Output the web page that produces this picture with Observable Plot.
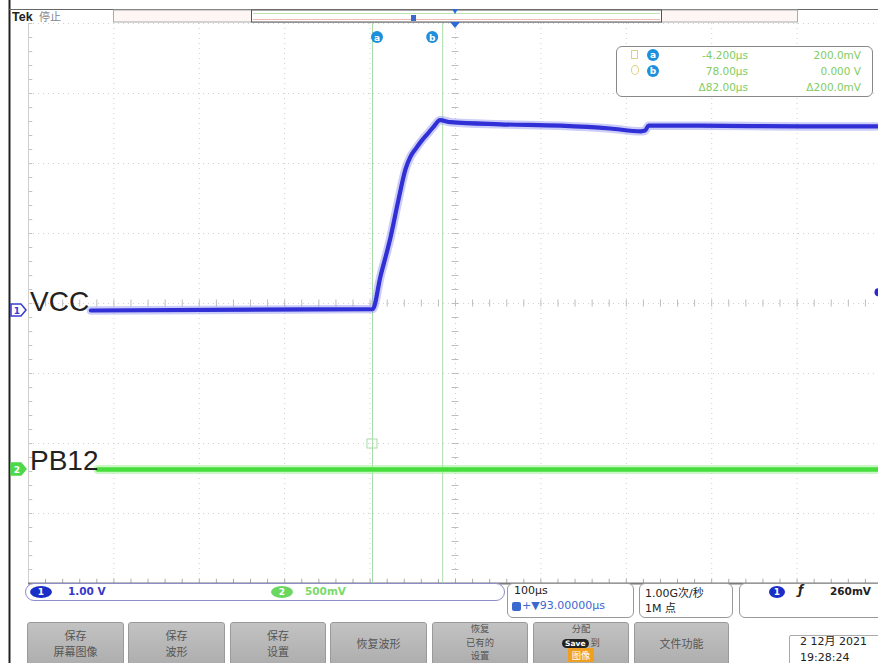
<!DOCTYPE html>
<html><head><meta charset="utf-8">
<script src="https://cdn.jsdelivr.net/npm/d3@7"></script>
<script src="https://cdn.jsdelivr.net/npm/@observablehq/plot@0.6"></script>
<style>
body{margin:0;background:#fff;font-family:"Liberation Sans",Arial,sans-serif;}
#wrap{position:relative;width:878px;height:663px;overflow:hidden;background:#fff;}
.abs{position:absolute;box-sizing:border-box;}
.btn{position:absolute;box-sizing:border-box;top:622px;height:46px;background:linear-gradient(#c2c2c2,#acacac);border:1px solid #9a9a9a;border-radius:3px;color:#555;font-family:"Noto Sans CJK SC",sans-serif;font-size:11px;line-height:14px;text-align:center;}
.btn div{position:absolute;left:0;right:0;}
.ro{position:absolute;font-family:"DejaVu Sans",sans-serif;font-size:10.5px;color:#82cc62;text-align:right;}
.sb{position:absolute;font-family:"DejaVu Sans",sans-serif;font-weight:bold;font-size:10.5px;}
.box{position:absolute;box-sizing:border-box;border:1px solid #999;border-radius:6px;background:#fff;}
</style></head><body><div id="wrap"></div>
<script>
// ---- data ----
const timePerDiv = 100;          // µs/div
const horizDelay = 93;           // µs at screen centre
const ch1Scale = 1.0, ch1Offset = -0.1;   // V/div, div
const ch2Scale = 0.5, ch2Offset = -2.37;  // V/div, div
const triggerLevel = 0.26;       // V
const cursorNames = ["a", "b"];
const cursorTimes = [-4.2, 78.0];
const vccTime = [-334, -4, 5, 17, 26, 34.5, 40, 47, 53, 60, 67, 75, 87, 146, 216, 274, 310, 315, 319, 380, 497, 590];
const vccVolts = [0, 0.02, 0.48, 1.05, 1.57, 2.02, 2.19, 2.32, 2.42, 2.52, 2.62, 2.72, 2.69, 2.66, 2.64, 2.60, 2.56, 2.57, 2.64, 2.64, 2.63, 2.63];
const pb12Time = [-326, 590];
const pb12Volts = [0, 0];
const gridDivX = d3.range(-5, 6);
const gridDivY = d3.range(-4, 5);

const vcc = vccTime.map((t, i) => ({t, v: vccVolts[i]}));
const pb12 = pb12Time.map((t, i) => ({t, v: pb12Volts[i]}));
const gridT = gridDivX.map(k => horizDelay + k * timePerDiv);
const minorT = d3.range(-50, 51).map(k => horizDelay + k * timePerDiv / 5);
const minorY = d3.range(-20, 21).map(k => k / 5);
const tLeft = horizDelay - 5 * timePerDiv;
const y1 = d => d.v / ch1Scale + ch1Offset;
const y2 = d => d.v / ch2Scale + ch2Offset;

const W = 878, H = 663;
const wrap = document.getElementById("wrap");

const plot = Plot.plot({
  width: W, height: H,
  marginTop: 23, marginBottom: 80, marginLeft: 28, marginRight: 0,
  x: {domain: [tLeft, horizDelay + 5 * timePerDiv], range: [28, 28 + 10 * 85.4], axis: null},
  y: {domain: [-4, 4], axis: null},
  style: {background: "transparent", overflow: "hidden"},
  marks: [
    Plot.ruleX(gridT, {stroke: "#d0d0d0", strokeDasharray: "1,4", clip: true}),
    Plot.ruleY(gridDivY, {stroke: "#d0d0d0", strokeDasharray: "1,4", clip: true}),
    Plot.ruleX(minorT, {x: d => d, y1: () => -0.05, y2: () => 0.05, stroke: "#bdbdbd", clip: true}),
    Plot.ruleY(minorY, {y: d => d, x1: () => horizDelay - 4, x2: () => horizDelay + 4, stroke: "#bdbdbd"}),
    Plot.ruleY(minorY, {y: d => d, x1: () => tLeft, x2: () => tLeft + 5, stroke: "#c4c4c4"}),
    Plot.ruleX(minorT, {x: d => d, y1: () => -4, y2: () => -3.94, stroke: "#aaa", clip: true}),
    Plot.ruleX([tLeft], {stroke: "#cfcfcf"}),
    Plot.ruleY([-4], {stroke: "#7a7a7a", strokeWidth: 2}),
    Plot.ruleX(cursorTimes, {stroke: "#a9dca9", strokeWidth: 1}),
    Plot.line(pb12, {x: "t", y: y2, stroke: "#a6f29e", strokeWidth: 9, strokeOpacity: 0.6, clip: true}),
    Plot.line(pb12, {x: "t", y: y2, stroke: "#47dd3c", strokeWidth: 4.5, clip: true}),
    Plot.line(vcc, {x: "t", y: y1, curve: "monotone-x", stroke: "#8d8df0", strokeWidth: 8.5, strokeOpacity: 0.45, clip: true}),
    Plot.line(vcc, {x: "t", y: y1, curve: "monotone-x", stroke: "#3030d6", strokeWidth: 4.2, clip: true}),
    Plot.dot([triggerLevel], {y: d => d / ch1Scale + ch1Offset, frameAnchor: "right", r: 4, fill: "#2a2acc"})
  ]
});
plot.style.position = "absolute"; plot.style.left = "0px"; plot.style.top = "0px";
wrap.appendChild(plot);
const xs = plot.scale("x"), ys = plot.scale("y");

const deco = d3.select(wrap).append("svg").attr("width", W).attr("height", H)
  .style("position", "absolute").style("left", "0px").style("top", "0px");
deco.append("line").attr("x1", 9.5).attr("x2", 9.5).attr("y1", 0).attr("y2", H).attr("stroke", "#222").attr("stroke-width", 2);
deco.append("line").attr("x1", 9).attr("x2", W).attr("y1", 9.5).attr("y2", 9.5).attr("stroke", "#666");
deco.append("rect").attr("x", 113.5).attr("y", 10).attr("width", 684).attr("height", 12).attr("fill", "#fdf6f4").attr("stroke", "#aaa");
deco.append("rect").attr("x", 251.5).attr("y", 10).attr("width", 410).attr("height", 12).attr("fill", "#fff").attr("stroke", "#555");
deco.append("line").attr("x1", 253).attr("x2", 660).attr("y1", 13.5).attr("y2", 13.5).attr("stroke", "#bfe3b0");
deco.append("line").attr("x1", 253).attr("x2", 660).attr("y1", 19.5).attr("y2", 19.5).attr("stroke", "#f0b8b0");
deco.append("rect").attr("x", 411).attr("y", 15).attr("width", 5).attr("height", 6).attr("fill", "#3a6ad0");
const cx = xs.apply(horizDelay);
deco.append("path").attr("d", `M${cx-3},9 L${cx+3},9 L${cx},14 Z`).attr("fill", "#2e6ad6");
deco.append("path").attr("d", `M${cx-5},22 L${cx+5},22 L${cx},28 Z`).attr("fill", "#2e6ad6");
deco.append("text").attr("x", 12).attr("y", 21).attr("font-family", "Liberation Sans").attr("font-weight", "bold").attr("font-size", 12.5).attr("fill", "#222").text("Tek");
deco.append("text").attr("x", 39).attr("y", 21).attr("font-family", "Noto Sans CJK SC").attr("font-size", 11).attr("fill", "#888").text("停止");
cursorTimes.forEach((t, i) => {
  const px = xs.apply(t) + (i === 0 ? 5 : -10);
  deco.append("circle").attr("cx", px).attr("cy", 37).attr("r", 6).attr("fill", "#1e8fdc");
  deco.append("text").attr("x", px).attr("y", 40.5).attr("text-anchor", "middle").attr("font-family", "DejaVu Sans").attr("font-weight", "bold").attr("font-size", 9).attr("fill", "#fff").text(cursorNames[i]);
});
deco.append("rect").attr("x", xs.apply(cursorTimes[0]) - 5).attr("y", ys.apply(-2) - 4).attr("width", 10).attr("height", 9).attr("fill", "none").attr("stroke", "#a9dca9");
function chMarker(yy, col, filled, label) {
  deco.append("path").attr("d", `M11,${yy-6} L21,${yy-6} L26,${yy} L21,${yy+6} L11,${yy+6} Z`)
    .attr("fill", filled ? col : "#fff").attr("stroke", col).attr("stroke-width", 1.5);
  deco.append("text").attr("x", 17).attr("y", yy + 4).attr("text-anchor", "middle").attr("font-family", "DejaVu Sans").attr("font-weight", "bold").attr("font-size", 9).attr("fill", filled ? "#fff" : col).text(label);
}
chMarker(ys.apply(ch1Offset), "#3a3ad0", false, "1");
chMarker(ys.apply(ch2Offset), "#4fd84a", true, "2");
deco.append("text").attr("x", 30).attr("y", ys.apply(ch1Offset) + 1).attr("font-family", "Liberation Sans").attr("font-size", 28).attr("fill", "#222").text("VCC");
deco.append("text").attr("x", 30).attr("y", ys.apply(ch2Offset) + 1).attr("font-family", "Liberation Sans").attr("font-size", 28).attr("fill", "#222").text("PB12");

function el(cls, style, html) {
  const d = document.createElement("div");
  d.className = cls; d.style.cssText = style; d.innerHTML = html; wrap.appendChild(d); return d;
}
el("box", "left:616px;top:46px;width:257px;height:51px;border-color:#888;", "");
el("abs", "left:631px;top:50px;width:7px;height:9px;border:1px solid #e0d080;", "");
el("abs", "left:631px;top:65px;width:8px;height:10px;border:1px solid #e0d080;border-radius:50%;", "");
[["a", 55], ["b", 71]].forEach(([n, y]) => {
  el("abs", `left:647px;top:${y-6}px;width:12px;height:12px;border-radius:50%;background:#1e8fdc;color:#fff;font:bold 9px 'DejaVu Sans';text-align:center;line-height:12px;`, n);
});
const roLeft = ["-4.200µs", "78.00µs", "Δ82.00µs"];
const roRight = ["200.0mV", "0.000 V", "Δ200.0mV"];
[49, 65, 81].forEach((y, i) => {
  el("ro", `left:660px;top:${y}px;width:88px;`, roLeft[i]);
  el("ro", `left:770px;top:${y}px;width:91px;`, roRight[i]);
});

el("box", "left:25px;top:583px;width:480px;height:18px;border-radius:9px;border-color:#8c8cc8;", "");
el("abs", "left:30px;top:586px;width:22px;height:12px;border-radius:50%;background:#1a2ec8;color:#fff;font:bold 9px 'DejaVu Sans';text-align:center;line-height:12px;", "1");
el("sb", "left:68px;top:585px;color:#3838c8;", "1.00 V");
el("abs", "left:271px;top:586px;width:22px;height:12px;border-radius:50%;background:#6ad860;color:#fff;font:bold 9px 'DejaVu Sans';text-align:center;line-height:12px;", "2");
el("sb", "left:305px;top:585px;color:#7ada6a;", "500mV");
el("box", "left:507px;top:583px;width:127px;height:35px;", "");
el("sb", "left:514px;top:584px;color:#222;font-weight:normal;font-size:11px;", timePerDiv + "µs");
el("abs", "left:512px;top:602px;width:9px;height:9px;background:#3a6ad0;border-radius:2px;", "");
el("sb", "left:522px;top:599px;color:#3a6ad0;font-weight:normal;font-size:11px;", "+▼" + horizDelay.toFixed(5) + "µs");
el("box", "left:639px;top:583px;width:94px;height:35px;", "");
el("sb", "left:645px;top:584px;color:#222;font-weight:normal;font-size:11px;font-family:'DejaVu Sans','Noto Sans CJK SC';", "1.00G次/秒");
el("sb", "left:645px;top:599px;color:#222;font-weight:normal;font-size:11px;font-family:'DejaVu Sans','Noto Sans CJK SC';", "1M 点");
el("box", "left:739px;top:583px;width:150px;height:35px;", "");
el("abs", "left:769px;top:586px;width:16px;height:12px;border-radius:50%;background:#1a2ec8;color:#fff;font:bold 9px 'DejaVu Sans';text-align:center;line-height:12px;", "1");
el("sb", "left:798px;top:583px;color:#222;font-style:italic;font-size:12px;", "ƒ");
el("sb", "left:830px;top:585px;color:#222;", (triggerLevel * 1000).toFixed(0) + "mV");

const buttons = [
  [27, 124, ["保存", "屏幕图像"]], [128, 225, ["保存", "波形"]], [230, 326, ["保存", "设置"]], [330, 427, ["恢复波形"]],
  [432, 528, ["恢复", "已有的", "设置"]],
  [533, 629, ["分配", "<span style='background:#222;color:#fff;border-radius:6px;padding:0 3px;font:bold 7.5px DejaVu Sans'>Save</span> 到", "<span style='background:#f0a020;color:#fff;padding:0 4px'>图像</span>"]],
  [634, 729, ["文件功能"]]
];
buttons.forEach(([a, b, lines]) => {
  const n = lines.length;
  const html = lines.map((t, i) => {
    if (n === 3) return `<div style="top:${-1 + i * 13.6}px;line-height:13.6px;font-size:9.3px;">${t}</div>`;
    return `<div style="top:${13 + (i - (n - 1) / 2) * 16}px;line-height:14px;">${t}</div>`;
  }).join("");
  el("btn", `left:${a}px;width:${b-a}px;`, html);
});
el("box", "left:789px;top:635px;width:95px;height:34px;border-radius:2px;border-color:#aaa;", "");
el("abs", "left:800px;top:634px;font:11px 'DejaVu Sans','Noto Sans CJK SC';color:#222;line-height:16px;", "2 12月 2021<br>19:28:24");
</script></body></html>
